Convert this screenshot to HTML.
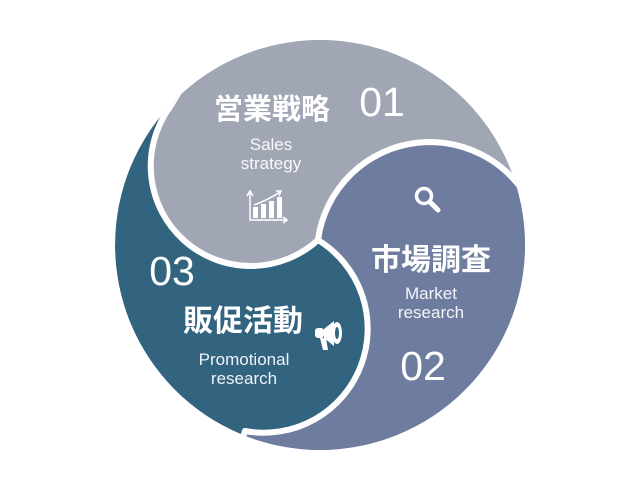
<!DOCTYPE html>
<html><head><meta charset="utf-8"><style>
html,body{margin:0;padding:0;background:#fff;width:640px;height:500px;overflow:hidden}
svg{display:block;overflow:hidden}
.t{font-family:"Liberation Sans","Noto Sans CJK JP",sans-serif;fill:#fff}
</style></head><body>
<svg width="640" height="500" viewBox="0 0 640 500">
<defs><clipPath id="c"><circle cx="320" cy="245" r="205"/></clipPath></defs>
<g clip-path="url(#c)">
<circle cx="320" cy="245" r="205" fill="#32637f"/>
<g stroke="#fff" stroke-width="6" stroke-linejoin="round">
<path fill="#a1a6b5" d="M318 240 A100 100 0 0 1 170 107 L201 56 L320 20 L600 80 L536 216 A113 113 0 0 0 318 240 Z"/>
<path fill="#6e7ca0" d="M318 240 A113 113 0 0 1 536 216 L620 300 L400 480 L232 470 L245 431 A104 104 0 0 0 318 240 Z"/>
</g>
</g>
<text class="t" x="272" y="119" font-size="29" font-weight="bold" text-anchor="middle" font-family="Noto Sans CJK JP">営業戦略</text>
<text class="t" x="382" y="116" font-size="41" text-anchor="middle">01</text>
<text class="t" x="271" y="150" font-size="17" text-anchor="middle" fill-opacity="0.92">Sales</text>
<text class="t" x="271" y="169" font-size="17" text-anchor="middle" fill-opacity="0.92">strategy</text>
<g stroke="#fff" fill="none" stroke-width="1.5">
<path d="M250 192 V220 H286"/><path d="M283 217 L287 220 L283 223"/><path d="M247 196 L250 191 L253 196"/>
<path d="M254 205 Q268 200 280 192"/><path d="M276 191 L281 191 L279 196"/>
</g>
<g fill="#fff"><rect x="253" y="207" width="5" height="11"/><rect x="261" y="204" width="5" height="14"/><rect x="269" y="201" width="5" height="17"/><rect x="277" y="197" width="5" height="21"/></g>
<circle cx="424" cy="196" r="7.5" fill="none" stroke="#fff" stroke-width="3.5"/>
<path d="M430 202 L438 210" stroke="#fff" stroke-width="5" stroke-linecap="round"/>
<text class="t" x="431" y="270" font-size="30" font-weight="bold" text-anchor="middle" font-family="Noto Sans CJK JP">市場調査</text>
<text class="t" x="431" y="299" font-size="17" text-anchor="middle" fill-opacity="0.92">Market</text>
<text class="t" x="431" y="318" font-size="17" text-anchor="middle" fill-opacity="0.92">research</text>
<text class="t" x="423" y="380" font-size="41" text-anchor="middle">02</text>
<text class="t" x="172" y="285" font-size="41" text-anchor="middle">03</text>
<text class="t" x="243" y="331" font-size="30" font-weight="bold" text-anchor="middle" font-family="Noto Sans CJK JP">販促活動</text>
<text class="t" x="244" y="365" font-size="17" text-anchor="middle" fill-opacity="0.92">Promotional</text>
<text class="t" x="244" y="384" font-size="17" text-anchor="middle" fill-opacity="0.92">research</text>
<g fill="#fff">
<rect x="315" y="328" width="9" height="10" rx="3"/>
<path d="M324 329 L334 321 L334 346 L324 338 Z"/>
<path d="M320 338 L326 338 L328 350 L323 350 Z"/>
<ellipse cx="337" cy="333" rx="5" ry="11"/>
</g>
<ellipse cx="337" cy="333" rx="2" ry="6" fill="#32637f"/>
</svg>
</body></html>
